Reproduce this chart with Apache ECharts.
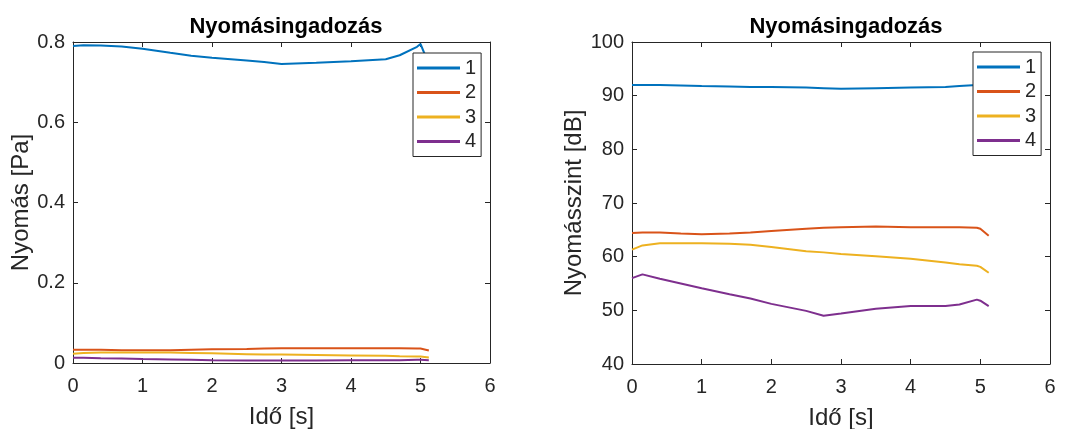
<!DOCTYPE html>
<html>
<head>
<meta charset="utf-8">
<script src="https://cdn.jsdelivr.net/npm/echarts@6/dist/echarts.min.js"></script>
<style>
  html, body { margin: 0; padding: 0; background: #fff; }
  #chart { width: 1079px; height: 429px; }
</style>
</head>
<body>
<div id="chart"></div>
<script>
// Time samples [s], shared by every trace
const tSec = [0, 0.15, 0.4, 0.7, 1.0, 1.4, 1.7, 2.0, 2.5, 2.75, 3.0, 3.5, 4.0, 4.5, 4.7, 4.95, 5.0, 5.12];

// Pressure amplitude [Pa], measurement points 1..4
const pa1 = [0.790, 0.792, 0.791, 0.789, 0.783, 0.773, 0.766, 0.761, 0.754, 0.750, 0.745, 0.748, 0.752, 0.757, 0.767, 0.788, 0.795, 0.745];
const pa2 = [0.033, 0.033, 0.033, 0.032, 0.032, 0.032, 0.033, 0.034, 0.035, 0.036, 0.037, 0.037, 0.037, 0.037, 0.037, 0.036, 0.036, 0.031];
const pa3 = [0.023, 0.025, 0.026, 0.026, 0.026, 0.026, 0.025, 0.024, 0.022, 0.021, 0.021, 0.020, 0.019, 0.018, 0.017, 0.016, 0.016, 0.014];
const pa4 = [0.013, 0.013, 0.012, 0.011, 0.010, 0.009, 0.008, 0.007, 0.006, 0.006, 0.006, 0.006, 0.007, 0.007, 0.007, 0.008, 0.008, 0.007];

// Sound pressure level [dB], measurement points 1..4
const db1 = [92.0, 92.0, 92.0, 91.9, 91.8, 91.7, 91.6, 91.6, 91.5, 91.4, 91.3, 91.4, 91.5, 91.6, 91.8, 92.0, 92.1, 91.5];
const db2 = [64.4, 64.5, 64.5, 64.3, 64.2, 64.3, 64.5, 64.8, 65.2, 65.4, 65.5, 65.6, 65.5, 65.5, 65.5, 65.4, 65.2, 63.9];
const db3 = [61.3, 62.1, 62.5, 62.5, 62.5, 62.4, 62.2, 61.8, 61.0, 60.8, 60.5, 60.1, 59.6, 58.9, 58.6, 58.3, 58.1, 57.0];
const db4 = [56.0, 56.7, 55.9, 55.0, 54.1, 53.0, 52.2, 51.2, 49.9, 49.0, 49.4, 50.3, 50.8, 50.8, 51.1, 52.0, 51.8, 50.8];

const seriesNames = ['1', '2', '3', '4'];
const colors = ['#0072BD', '#D95319', '#EDB120', '#7E2F8E'];
const titleText = 'Nyomásingadozás';
const xName = 'Idő [s]';
const yNameLeft = 'Nyomás [Pa]';
const yNameRight = 'Nyomásszint [dB]';

const FONT = '"Liberation Sans", Arial, Helvetica, sans-serif';
const INK = '#262626';

// Fixed plot boxes; outer bounds handling off so labels never squeeze them
const grids = [
  { left: 73, top: 42, width: 417, height: 321, outerBoundsMode: 'none', containLabel: false },
  { left: 632, top: 42, width: 418, height: 322, outerBoundsMode: 'none', containLabel: false }
];

function pairs(vals) { return tSec.map((t, i) => [t, vals[i]]); }

function xAxes(gi) {
  const common = {
    type: 'value', gridIndex: gi, min: 0, max: 6, interval: 1,
    axisLine: { show: true, onZero: false, lineStyle: { color: INK, width: 1 } },
    axisTick: { show: true, inside: true, length: 5, lineStyle: { color: INK } },
    splitLine: { show: false }
  };
  return [
    Object.assign({}, common, {
      position: 'bottom',
      axisLabel: { color: INK, fontFamily: FONT, fontSize: 20, margin: 13 },
      name: xName, nameLocation: 'middle', nameGap: 42,
      nameTextStyle: { color: INK, fontFamily: FONT, fontSize: 24 }
    }),
    Object.assign({}, common, { position: 'top', axisLabel: { show: false } })
  ];
}

function yAxes(gi, min, max, interval, name, gap) {
  const common = {
    type: 'value', gridIndex: gi, min: min, max: max, interval: interval,
    axisLine: { show: true, onZero: false, lineStyle: { color: INK, width: 1 } },
    axisTick: { show: true, inside: true, length: 5, lineStyle: { color: INK } },
    splitLine: { show: false }
  };
  return [
    Object.assign({}, common, {
      position: 'left',
      axisLabel: { color: INK, fontFamily: FONT, fontSize: 20, margin: 8 },
      name: name, nameLocation: 'middle', nameGap: gap,
      nameTextStyle: { color: INK, fontFamily: FONT, fontSize: 24 }
    }),
    Object.assign({}, common, { position: 'right', axisLabel: { show: false } })
  ];
}

function lineSeries(name, vals, xi, yi, color) {
  return {
    name: name, type: 'line', xAxisIndex: xi, yAxisIndex: yi,
    data: pairs(vals), showSymbol: false, symbol: 'none',
    lineStyle: { color: color, width: 2 }, itemStyle: { color: color },
    animation: false, z: 2
  };
}

function legendAt(left, top) {
  return {
    left: left, top: top, orient: 'vertical', data: seriesNames,
    icon: 'rect', itemWidth: 43, itemHeight: 3, itemGap: 4.5,
    padding: [5, 5, 5, 4],
    borderColor: INK, borderWidth: 1, backgroundColor: '#fff',
    textStyle: { color: INK, fontFamily: FONT, fontSize: 20, lineHeight: 20 },
    selectedMode: false, z: 10
  };
}

const titleStyle = { color: '#000', fontFamily: FONT, fontSize: 22, fontWeight: 'bold' };

const option = {
  backgroundColor: '#fff',
  animation: false,
  title: [
    { text: titleText, left: 281, top: 11, textAlign: 'center', textStyle: titleStyle },
    { text: titleText, left: 841, top: 11, textAlign: 'center', textStyle: titleStyle }
  ],
  grid: grids,
  xAxis: [...xAxes(0), ...xAxes(1)],
  yAxis: [...yAxes(0, 0, 0.8, 0.2, yNameLeft, 38), ...yAxes(1, 40, 100, 10, yNameRight, 45)],
  legend: [legendAt(413, 53), legendAt(973, 52)],
  series: [
    lineSeries('1', pa1, 0, 0, colors[0]),
    lineSeries('2', pa2, 0, 0, colors[1]),
    lineSeries('3', pa3, 0, 0, colors[2]),
    lineSeries('4', pa4, 0, 0, colors[3]),
    lineSeries('1', db1, 2, 2, colors[0]),
    lineSeries('2', db2, 2, 2, colors[1]),
    lineSeries('3', db3, 2, 2, colors[2]),
    lineSeries('4', db4, 2, 2, colors[3])
  ]
};

const chart = echarts.init(document.getElementById('chart'), null, { renderer: 'canvas' });
chart.setOption(option);
</script>
</body>
</html>
